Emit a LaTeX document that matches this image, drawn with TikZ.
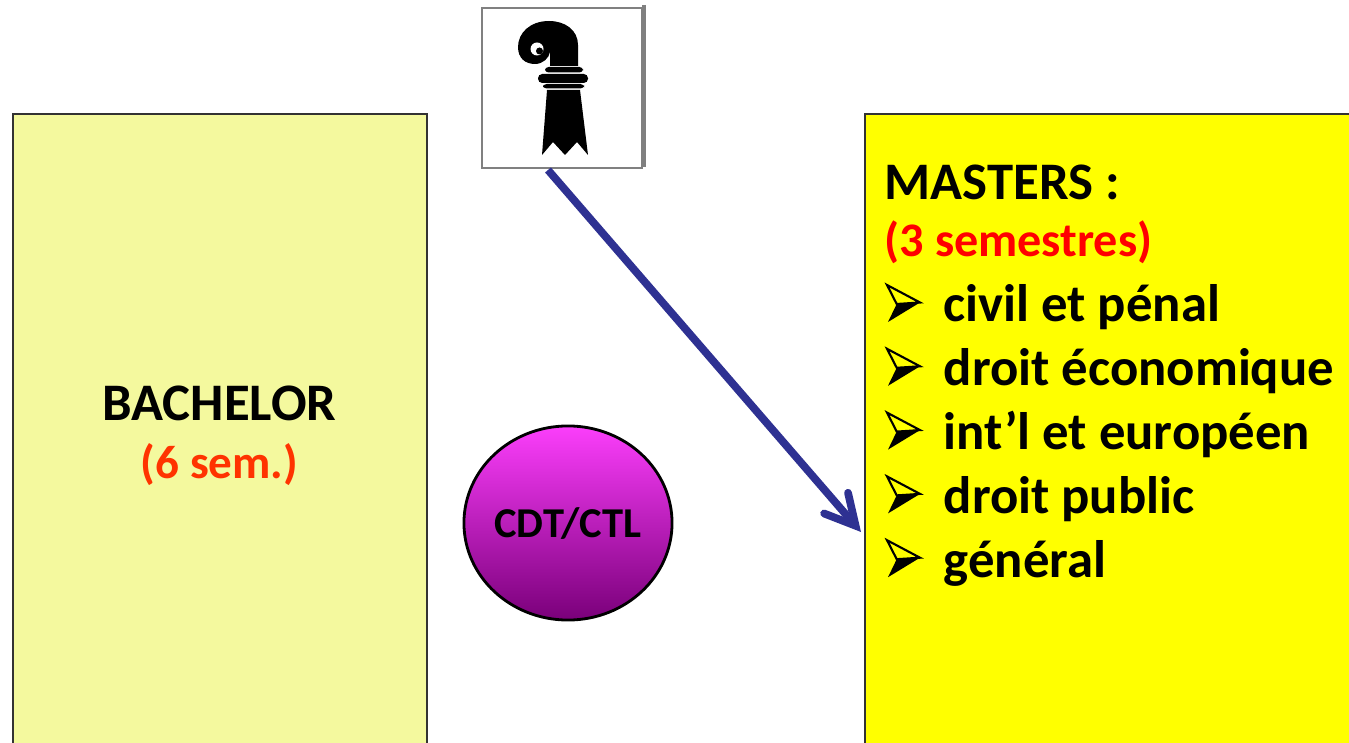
\documentclass[tikz,border=0pt]{standalone}
\usepackage{fontspec}
\setmainfont{Carlito}
\usetikzlibrary{arrows.meta,shapes.geometric}
\definecolor{bachgelb}{HTML}{F4F99E}
\definecolor{mastgelb}{HTML}{FFFF00}
\definecolor{pfeilblau}{HTML}{2E3192}
\definecolor{semorange}{HTML}{FF3300}
\definecolor{semrot}{HTML}{FF0000}
\definecolor{lilahell}{HTML}{FB3EFB}
\definecolor{liladunkel}{HTML}{7A007A}
\tikzset{
  kasten/.style={draw=black!80, line width=0.6pt, anchor=north west, inner sep=0pt},
  gross/.style={font=\fontsize{15}{17}\selectfont\bfseries, anchor=base west, inner sep=0pt},
  mittel/.style={font=\fontsize{13.4}{15}\selectfont\bfseries, anchor=base, inner sep=0pt},
  pfeilpunkt/.pic={
    \draw[line width=0.6pt, line join=miter] (1,-37) -- (34,-19.5) -- (10.7,-18) -- cycle;
    \fill (10.7,-18) -- (34,-19.5) -- (2,0) -- cycle;
  },
}
\begin{document}
\begin{tikzpicture}[x=0.01cm, y=-0.01cm, >={Straight Barb[length=8.5pt,width=9pt,line cap=round]}]
\useasboundingbox (0,0) rectangle (1349,743);
\clip (0,0) rectangle (1349,743);
% bachelor
\node[kasten, fill=bachgelb, minimum width=4.14cm, minimum height=7cm] (bachelor) at (12,113) {};
\node[mittel, font=\fontsize{15}{17}\selectfont\bfseries] (bachtxt) at (219.5,420) {BACHELOR};
\node[mittel, text=semorange] (bachsem) at (219.5,478) {(6 sem.)};
% wappen
\node[kasten, draw=gray, minimum width=1.6cm, minimum height=1.6cm] (wappen) at (481,7) {};
\draw[gray, line width=1pt] (644,5) -- (644,167);
\fill (547,90) -- (580,90) -- (588,155) -- (577,142) -- (565,155) -- (553,142) -- (542,155) -- cycle;
\fill[rounded corners=1pt] (545,67) rectangle (583,72.5);
\fill[rounded corners=1.2pt] (538,74) rectangle (588,83);
\fill[rounded corners=1pt] (543,84) rectangle (584,88.5);
\fill (578,66) -- (578,45) .. controls (578,30) and (565,21) .. (549,21)
  .. controls (530,21) and (518,33) .. (518,47) .. controls (518,58) and (525,64) .. (535,64)
  .. controls (543,64) and (549,58) .. (550,52) -- (550,66) -- cycle;
\fill[white] (537,49) circle[radius=6.5];
\fill (539.5,51) circle[radius=3.5];
% cdt
\node[ellipse, draw, line width=0.8pt, minimum width=2.08cm, minimum height=1.94cm, inner sep=0pt,
  top color=lilahell, bottom color=liladunkel] (cdt) at (568,523) {};
\node[mittel, font=\fontsize{12.1}{14}\selectfont\bfseries] (cdttxt) at (568,537) {CDT/CTL};
% masters
\node[kasten, fill=mastgelb, minimum width=5cm, minimum height=7cm] (masters) at (864,113) {};
\node[gross] (masttxt) at (884,200) {MASTERS :};
\node[gross, font=\fontsize{13.7}{15}\selectfont\bfseries, text=semrot] (mastsem) at (884,257) {(3 semestres)};
\foreach \fach [count=\i from 0] in {civil et pénal, droit économique, int’l et européen, droit public, général}{
  \pic (pkt\i) at (886,{322+63.8*\i}) {pfeilpunkt};
  \node[gross] (fach\i) at (943,{322+63.8*\i}) {\fach};
}
% pfeil
\coordinate (stabfuss) at (548,170);
\coordinate (mastin) at (861,532);
\draw[->, pfeilblau, line width=2.2pt] (stabfuss) -- (mastin);
\end{tikzpicture}
\end{document}
